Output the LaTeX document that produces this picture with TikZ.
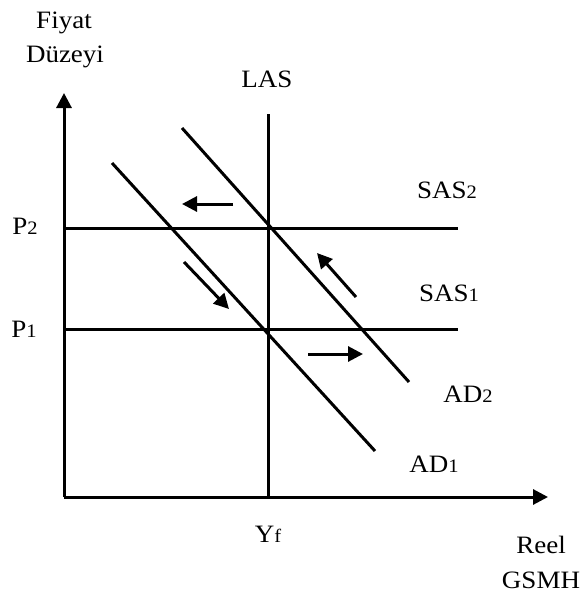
\documentclass[tikz,border=0pt]{standalone}
\usepackage{fontspec}
\setmainfont[FakeStretch=1.08]{Liberation Serif}
\usetikzlibrary{arrows.meta}
\newcommand{\smdig}[1]{{\fontsize{19}{19}\selectfont #1}}
\begin{document}
\begin{tikzpicture}[x=1pt,y=-1pt,
  ln/.style={line width=3pt},
  arr/.style={line width=3pt,-{Triangle[length=15pt,width=15pt]}},
  lbl/.style={anchor=base,inner sep=0pt,font=\fontsize{25}{30}\selectfont}]
\useasboundingbox (0,0) rectangle (586,594);
% axes
\coordinate (O) at (64,497);
\coordinate (ytop) at (64,93);
\coordinate (xend) at (548,497);
\draw[arr] (O) -- (ytop);
\draw[arr] (O) -- (xend);
% LAS
\coordinate (lasT) at (268,114);
\coordinate (lasB) at (268,497);
\draw[ln] (lasT) -- (lasB);
% SAS lines
\coordinate (s2L) at (64,228);
\coordinate (s2R) at (458,228);
\coordinate (s1L) at (64,329);
\coordinate (s1R) at (458,329);
\draw[ln] (s2L) -- (s2R);
\draw[ln] (s1L) -- (s1R);
% AD lines
\coordinate (ad1A) at (112,163);
\coordinate (ad1B) at (375,451);
\coordinate (ad2A) at (182,128);
\coordinate (ad2B) at (409,382);
\draw[ln] (ad1A) -- (ad1B);
\draw[ln] (ad2A) -- (ad2B);
% movement arrows
\coordinate (a1s) at (233,204); \coordinate (a1e) at (182,204);
\coordinate (a2s) at (184,262); \coordinate (a2e) at (229,309);
\coordinate (a3s) at (356,297); \coordinate (a3e) at (317,253);
\coordinate (a4s) at (308,354); \coordinate (a4e) at (363,354);
\draw[arr] (a1s) -- (a1e);
\draw[arr] (a2s) -- (a2e);
\draw[arr] (a3s) -- (a3e);
\draw[arr] (a4s) -- (a4e);
% labels
\node[lbl] (fiyat) at (64,29) {Fiyat};
\node[lbl] (duzeyi) at (65,63) {Düzeyi};
\node[lbl] (las) at (267,88) {LAS};
\node[lbl] (sas2) at (447,198) {SAS\smdig{2}};
\node[lbl] (sas1) at (449,301) {SAS\smdig{1}};
\node[lbl] (ad2) at (468,402) {AD\smdig{2}};
\node[lbl] (ad1) at (434,472) {AD\smdig{1}};
\node[lbl] (p2) at (25,234) {P\smdig{2}};
\node[lbl] (p1) at (24,337) {P\smdig{1}};
\node[lbl] (yf) at (268,542) {Y\smdig{f}};
\node[lbl] (reel) at (541,553) {Reel};
\node[lbl] (gsmh) at (541,588) {GSMH};
\end{tikzpicture}
\end{document}
